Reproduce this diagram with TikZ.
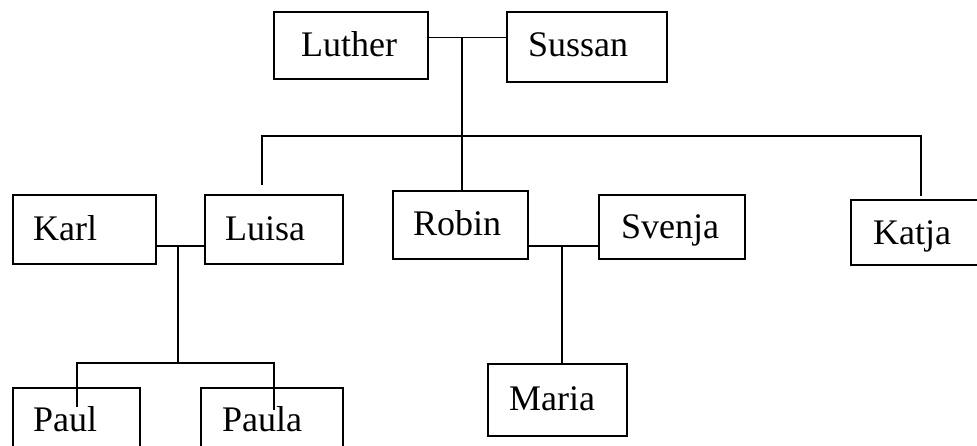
\documentclass[tikz,border=0pt]{standalone}
\usepackage{fontspec}
\setmainfont{Liberation Serif}
\begin{document}
\begin{tikzpicture}[x=1pt,y=-1pt,
  personbox/.style={draw=black,line width=1.8pt,anchor=north west,inner sep=0pt},
  nametext/.style={anchor=base west,inner sep=0pt,font=\fontsize{36}{40}\selectfont},
  link/.style={draw=black,line width=1.8pt}]
\useasboundingbox (0,0) rectangle (977,445);
\fill[white] (0,0) rectangle (977,445);
\clip (0,0) rectangle (977,445);
% boxes
\node[personbox,minimum width=154pt,minimum height=67pt] (luther) at (273,11) {};
\node[personbox,minimum width=160pt,minimum height=70pt] (sussan) at (506,11) {};
\node[personbox,minimum width=143pt,minimum height=69pt] (karl) at (12,194) {};
\node[personbox,minimum width=138pt,minimum height=69pt] (luisa) at (204,194) {};
\node[personbox,minimum width=135pt,minimum height=68pt] (robin) at (392,190) {};
\node[personbox,minimum width=146pt,minimum height=64pt] (svenja) at (598,194) {};
\node[personbox,minimum width=140pt,minimum height=65pt] (katja) at (850,199) {};
\node[personbox,minimum width=127pt,minimum height=80pt] (paul) at (12,387) {};
\node[personbox,minimum width=142pt,minimum height=80pt] (paula) at (200,387) {};
\node[personbox,minimum width=139pt,minimum height=72pt] (maria) at (487,363) {};
% texts
\node[nametext] (tluther) at (301,56) {Luther};
\node[nametext] (tsussan) at (528,56.5) {Sussan};
\node[nametext] (tkarl) at (33,240) {Karl};
\node[nametext] (tluisa) at (225,240) {Luisa};
\node[nametext] (trobin) at (413,235) {Robin};
\node[nametext] (tsvenja) at (621,238) {Svenja};
\node[nametext] (tkatja) at (873,244) {Katja};
\node[nametext] (tpaul) at (33,431.5) {Paul};
\node[nametext] (tpaula) at (222,431.5) {Paula};
\node[nametext] (tmaria) at (509,410) {Maria};
% connector points
\coordinate (lsmid) at (462,37.5);
\coordinate (bar1) at (462,136);
\coordinate (luisatip) at (262,185);
\coordinate (katjatip) at (921,196);
\coordinate (klmid) at (178,246);
\coordinate (kidbar) at (178,363);
\coordinate (paultip) at (77,407);
\coordinate (paulatip) at (274,410);
\coordinate (rsmid) at (562,246);
% connectors
\draw[link] (luther.east |- lsmid) -- (sussan.west |- lsmid);
\draw[link] (lsmid) -- (lsmid |- robin.north);
\draw[link] (luisatip) |- (bar1) -| (katjatip);
\draw[link] (karl.east |- klmid) -- (luisa.west |- klmid);
\draw[link] (klmid) -- (kidbar);
\draw[link] (paultip) |- (kidbar) -| (paulatip);
\draw[link] (robin.east |- rsmid) -- (svenja.west |- rsmid);
\draw[link] (rsmid) -- (rsmid |- maria.north);
\end{tikzpicture}
\end{document}
